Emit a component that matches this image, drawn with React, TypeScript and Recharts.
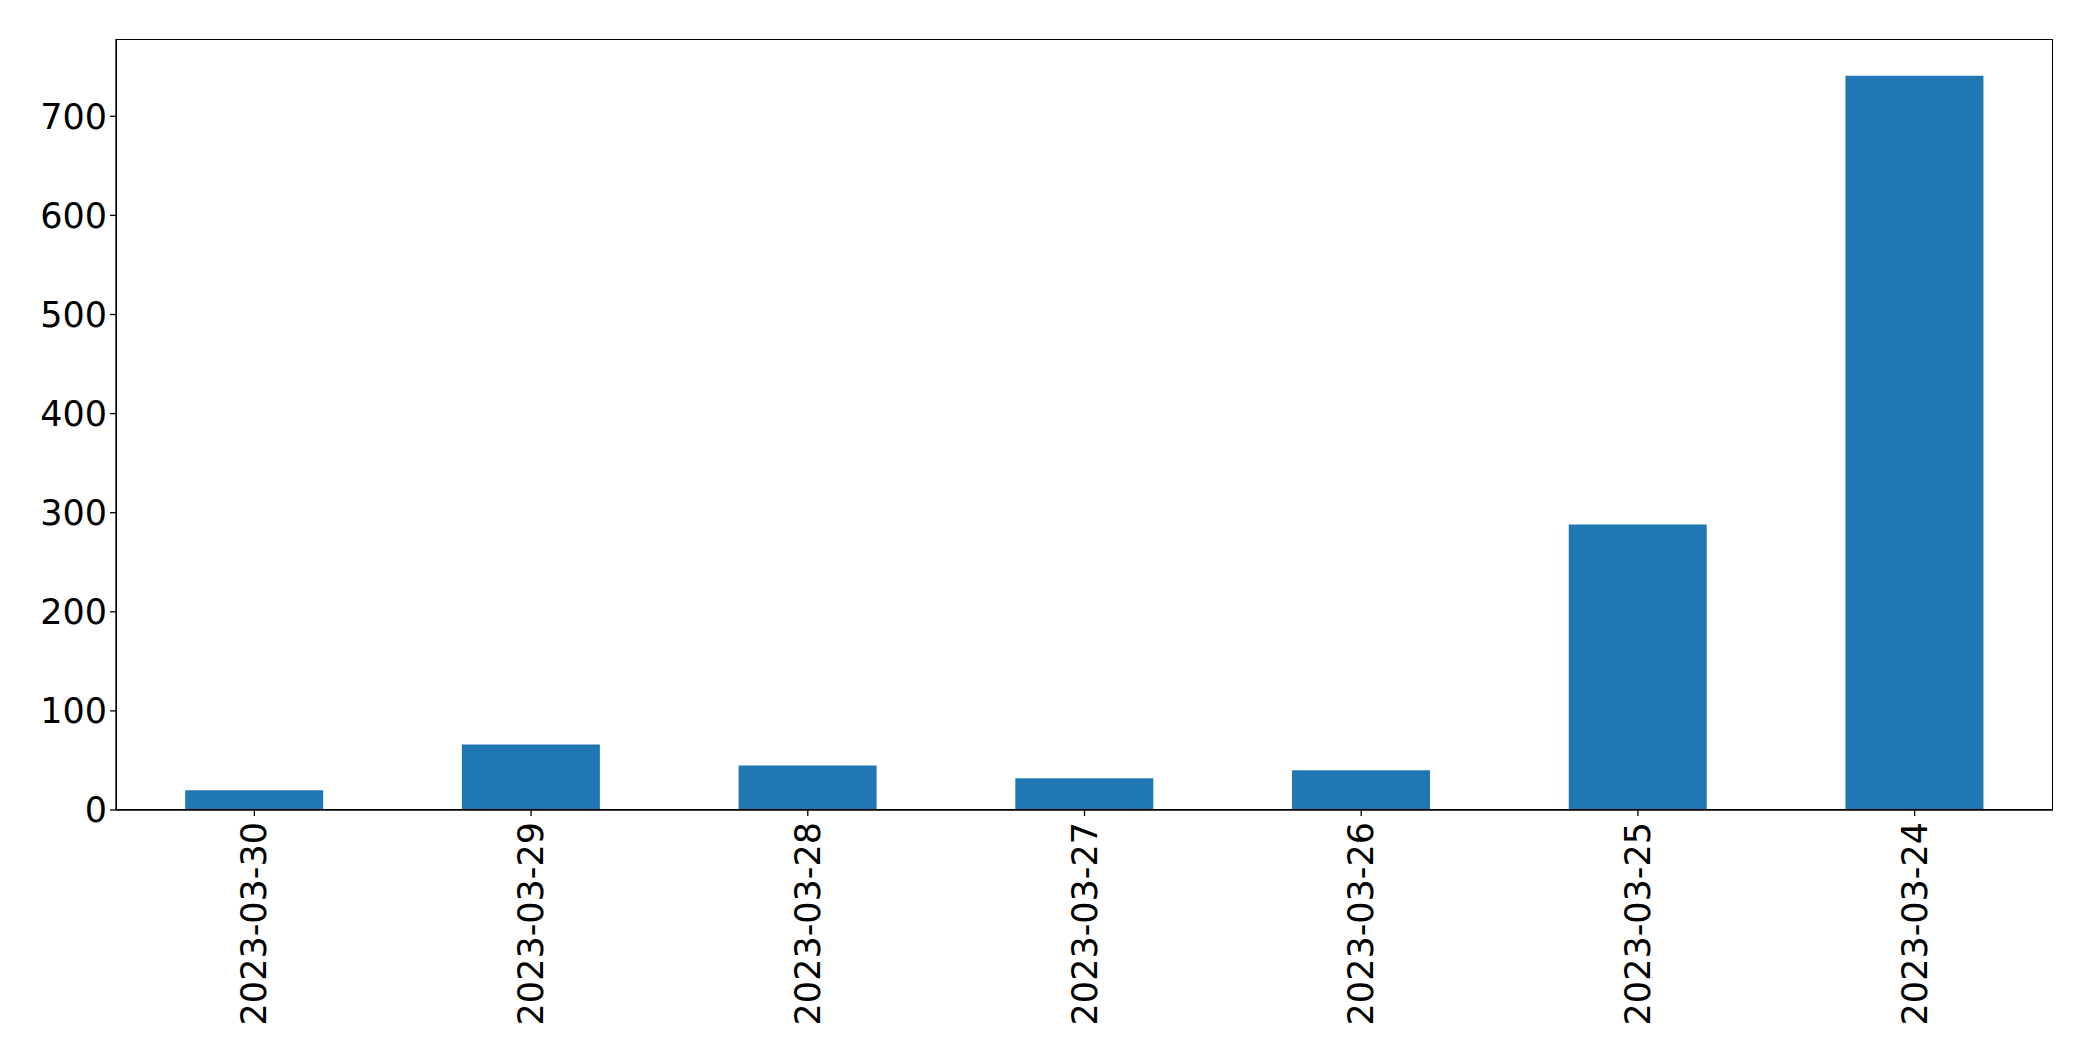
import React from 'react';
import { BarChart, Bar, XAxis, YAxis } from 'recharts';

const dates = ['2023-03-30', '2023-03-29', '2023-03-28', '2023-03-27', '2023-03-26', '2023-03-25', '2023-03-24'];
const counts = [20, 66, 45, 32, 40, 288, 741];
const yTicks = [0, 100, 200, 300, 400, 500, 600, 700];

const data = dates.map((d, i) => ({ date: d, count: counts[i] }));

const FONT = '"DejaVu Sans", sans-serif';

const DateTick = (props: any) => {
  const { x, y, payload } = props;
  return (
    <text
      transform={`translate(${x},${y + 6}) rotate(-90)`}
      textAnchor="end"
      dominantBaseline="central"
      fontFamily={FONT}
      fontSize={35}
      fill="#000"
    >
      {payload.value}
    </text>
  );
};

export default function App() {
  return (
    <div style={{ position: 'absolute', left: 0, top: 0, width: 2093, height: 1061, background: '#fff' }}>
      <BarChart
        width={2093}
        height={1061}
        data={data}
        margin={{ top: 39, right: 40, bottom: 11, left: 0 }}
        barCategoryGap="25%"
      >
        <XAxis
          dataKey="date"
          interval={0}
          height={240}
          tickSize={6}
          tickMargin={0}
          tick={<DateTick />}
          axisLine={{ stroke: '#000', strokeWidth: 1.3 }}
          tickLine={{ stroke: '#000', strokeWidth: 1.3 }}
        />
        <YAxis
          width={116}
          domain={[0, 778]}
          ticks={yTicks}
          tickSize={6}
          tickMargin={3}
          tick={{ fontFamily: FONT, fontSize: 35, fill: '#000' }}
          axisLine={{ stroke: '#000', strokeWidth: 1.3 }}
          tickLine={{ stroke: '#000', strokeWidth: 1.3 }}
          allowDataOverflow
        />
        <Bar dataKey="count" fill="#1f77b4" isAnimationActive={false} />
      </BarChart>
      {/* axes frame (top and right spines) */}
      <div
        style={{
          position: 'absolute',
          left: 116,
          top: 39,
          width: 1937,
          height: 771,
          boxSizing: 'border-box',
          border: '1.3px solid #000',
          pointerEvents: 'none',
        }}
      />
    </div>
  );
}
